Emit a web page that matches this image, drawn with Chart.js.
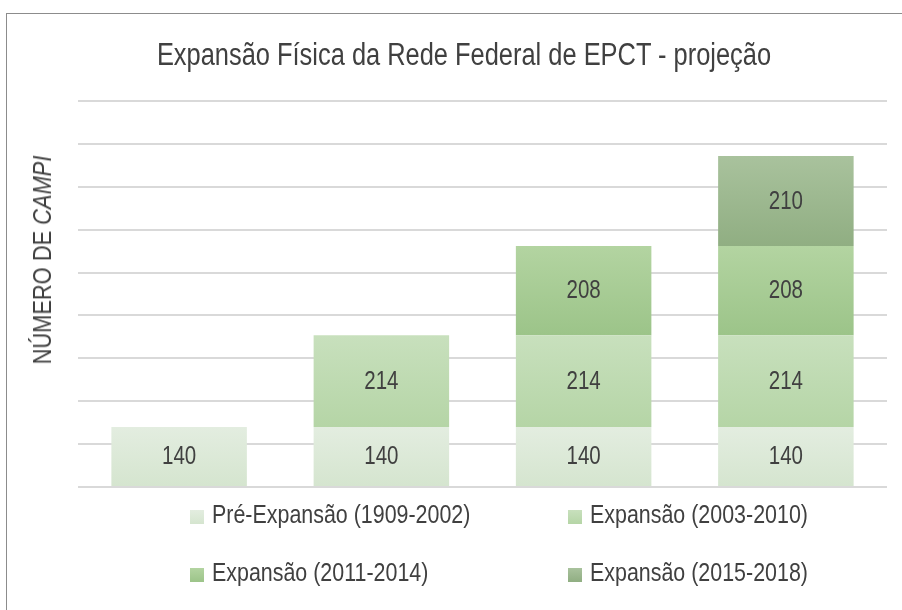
<!DOCTYPE html>
<html>
<head>
<meta charset="utf-8">
<script src="https://cdn.jsdelivr.net/npm/chart.js@4/dist/chart.umd.min.js"></script>
<style>
  body { margin: 0; background: #fff; font-family: "Liberation Sans", Arial, sans-serif; }
  #wrap { position: relative; width: 902px; height: 610px; overflow: hidden; }
  #frame { position: absolute; left: 6px; top: 13px; width: 1000px; height: 1000px; border: 1px solid #8c8c8c; box-sizing: border-box; }
  canvas { position: absolute; left: 0; top: 0; }
  .narrow { display: inline-block; transform: scaleX(0.84); transform-origin: left center; white-space: nowrap; }
  #title { position: absolute; left: 464px; top: 39px; font-size: 31px; line-height: 31px; color: #404040; white-space: nowrap; transform: translateX(-50%) scaleX(0.82); }
  #ytitle { position: absolute; left: 42px; top: 260px; transform: translate(-50%, -50%) rotate(-90deg) scaleX(0.84); white-space: nowrap; font-size: 26px; line-height: 26px; color: #404040; }
  .leg { position: absolute; font-size: 25.5px; color: #404040; white-space: nowrap; line-height: 24px; }
  .leg span.box { display: inline-block; width: 14px; height: 14px; margin-right: 8px; vertical-align: -1px; }
</style>
</head>
<body>
<div id="wrap">
  <div id="frame"></div>
  <canvas id="myChart" width="902" height="610"></canvas>
  <div id="title">Expansão Física da Rede Federal de EPCT - projeção</div>
  <div id="ytitle">NÚMERO DE <i>CAMPI</i></div>
  <div id="legend"></div>
</div>
<script>
const categories = ['1', '2', '3', '4'];
const seriesNames = ['Pré-Expansão (1909-2002)', 'Expansão (2003-2010)', 'Expansão (2011-2014)', 'Expansão (2015-2018)'];
const preExpansao = [140, 140, 140, 140];
const exp2003 = [null, 214, 214, 214];
const exp2011 = [null, null, 208, 208];
const exp2015 = [null, null, null, 210];

// top / bottom colours of each bar's gradient
const gradTop = ['#e3ede0', '#c8e0bd', '#b3d4a1', '#a9c29d'];
const gradBottom = ['#d5e5cf', '#b5d5a6', '#9cc489', '#90ae82'];

const gradientBars = {
  id: 'gradientBars',
  beforeDatasetDraw(chart, args) {
    const c = chart.ctx;
    const i = args.index;
    args.meta.data.forEach(bar => {
      const g = c.createLinearGradient(0, bar.y, 0, bar.base);
      g.addColorStop(0, gradTop[i]);
      g.addColorStop(1, gradBottom[i]);
      bar.options.backgroundColor = g;
    });
  }
};

// value labels, condensed like the original
const barLabels = {
  id: 'barLabels',
  afterDatasetsDraw(chart) {
    const c = chart.ctx;
    c.save();
    c.font = '25px "Liberation Sans", Arial, sans-serif';
    c.fillStyle = '#404040';
    c.textAlign = 'center';
    c.textBaseline = 'middle';
    chart.data.datasets.forEach((ds, i) => {
      chart.getDatasetMeta(i).data.forEach((bar, j) => {
        const v = ds.data[j];
        if (v == null) return;
        c.save();
        c.translate(bar.x, (bar.y + bar.base) / 2 + 1);
        c.scale(0.82, 1);
        c.fillText(String(v), 0, 0);
        c.restore();
      });
    });
    c.restore();
  }
};

const datasets = [preExpansao, exp2003, exp2011, exp2015].map((d, i) => ({
  label: seriesNames[i],
  data: d,
  backgroundColor: gradBottom[i],
  borderWidth: 0,
  categoryPercentage: 1,
  barPercentage: 0.67
}));

new Chart(document.getElementById('myChart').getContext('2d'), {
  type: 'bar',
  data: { labels: categories, datasets: datasets },
  options: {
    responsive: false,
    animation: false,
    layout: { padding: { left: 78, right: 15, top: 101, bottom: 123 } },
    plugins: { legend: { display: false }, tooltip: { enabled: false } },
    scales: {
      x: { stacked: true, display: false },
      y: {
        stacked: true,
        min: 0,
        max: 900,
        ticks: { display: false, stepSize: 100 },
        border: { display: false },
        grid: { color: '#d9d9d9', lineWidth: 2, drawTicks: false }
      }
    }
  },
  plugins: [gradientBars, barLabels]
});

// legend, 2 x 2
const legPos = [[190, 502], [568, 502], [190, 560], [568, 560]];
const legend = document.getElementById('legend');
seriesNames.forEach((name, i) => {
  const el = document.createElement('div');
  el.className = 'leg';
  el.style.left = legPos[i][0] + 'px';
  el.style.top = legPos[i][1] + 'px';
  el.innerHTML = '<span class="box" style="background:linear-gradient(' + gradTop[i] + ',' + gradBottom[i] + ')"></span>' +
    '<span class="narrow">' + name + '</span>';
  legend.appendChild(el);
});
</script>
</body>
</html>
